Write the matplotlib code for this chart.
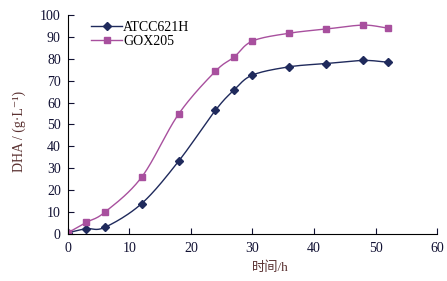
import numpy as np
import matplotlib
matplotlib.use('Agg')
from matplotlib import pyplot as plt

plt.rcParams['font.family'] = ['Liberation Serif', 'DejaVu Serif', 'Noto Sans CJK SC']

hours = [0, 3, 6, 12, 18, 24, 27, 30, 36, 42, 48, 52]
atcc = [0.3, 2.2, 2.8, 13.7, 33.1, 56.5, 65.7, 72.6, 76.4, 77.9, 79.3, 78.5]
gox = [0.3, 5.1, 9.7, 25.8, 54.7, 74.4, 80.8, 88.2, 91.8, 93.7, 95.5, 94.1]


def smooth(x, y, n=20):
    # catmull-rom through the points, like excel smoothed lines
    x = np.asarray(x, float)
    y = np.asarray(y, float)
    px = np.concatenate([[2 * x[0] - x[1]], x, [2 * x[-1] - x[-2]]])
    py = np.concatenate([[2 * y[0] - y[1]], y, [2 * y[-1] - y[-2]]])
    xs, ys = [], []
    for i in range(1, len(px) - 2):
        t = np.linspace(0, 1, n, endpoint=False)
        for p, out in ((px, xs), (py, ys)):
            p0, p1, p2, p3 = p[i - 1], p[i], p[i + 1], p[i + 2]
            out.extend(0.5 * (2 * p1 + (-p0 + p2) * t + (2 * p0 - 5 * p1 + 4 * p2 - p3) * t ** 2
                              + (-p0 + 3 * p1 - 3 * p2 + p3) * t ** 3))
    xs.append(x[-1])
    ys.append(y[-1])
    return xs, ys


fig = plt.figure(figsize=(4.47, 2.81), dpi=100)
ax = fig.add_axes([0.1515, 0.169, 0.8265, 0.7766])

navy = '#1f2a5c'
pink = '#a8509e'

sx, sy = smooth(hours, atcc)
ax.plot(sx, sy, color=navy, lw=1)
ax.plot(hours, atcc, ls='none', marker='D', ms=4.5, color=navy)
ax.plot([], [], color=navy, lw=1, marker='D', ms=4.5, label='ATCC621H')

sx, sy = smooth(hours, gox)
ax.plot(sx, sy, color=pink, lw=1)
ax.plot(hours, gox, ls='none', marker='s', ms=4.5, color=pink)
ax.plot([], [], color=pink, lw=1, marker='s', ms=4.5, label='GOX205')

ax.set_xlim(0, 60)
ax.set_ylim(0, 100)
ax.set_xticks(range(0, 61, 10))
ax.set_yticks(range(0, 101, 10))
ax.spines['top'].set_visible(False)
ax.spines['right'].set_visible(False)
ax.tick_params(direction='in', length=4, labelsize=10, colors='#111133')
ax.tick_params(axis='x', pad=6)
ax.tick_params(axis='y', pad=5)
ax.set_xlabel('时间/h', fontsize=9.5, color='#5a3030', va='center')
ax.set_ylabel('DHA / (g·L⁻¹)', fontsize=10, color='#5a3030', va='center')
ax.xaxis.set_label_coords(0.548, -0.158)
ax.yaxis.set_label_coords(-0.132, 0.47)

leg = ax.legend(loc='upper left', bbox_to_anchor=(0.03, 1.03), frameon=False, fontsize=10,
                handlelength=2.2, handletextpad=0.1, labelspacing=0.05)

fig.savefig('out.png', dpi=100)
